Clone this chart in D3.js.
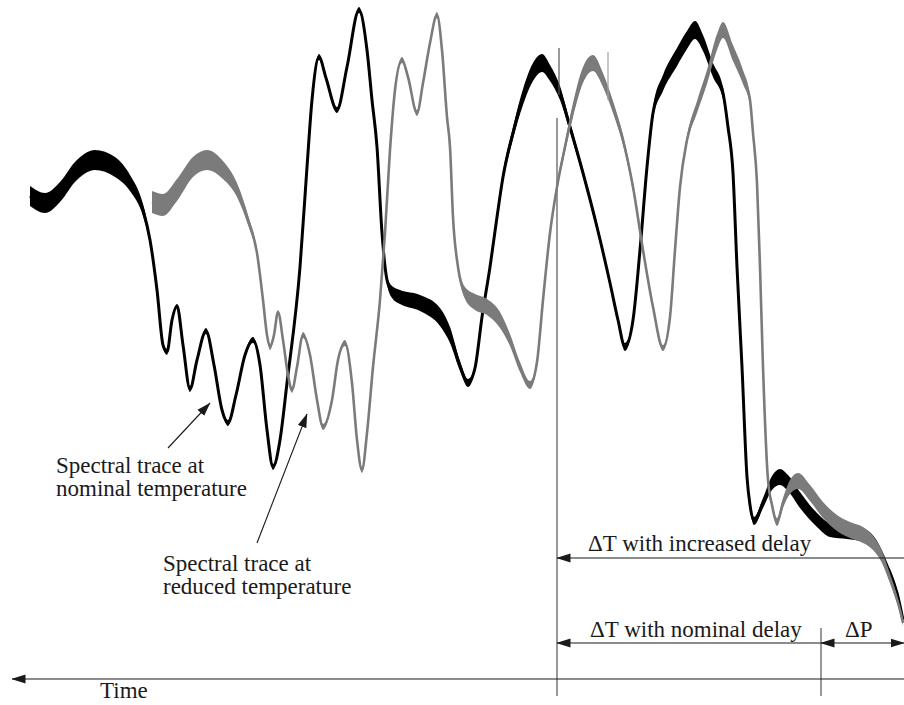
<!DOCTYPE html>
<html>
<head>
<meta charset="utf-8">
<script src="https://cdn.jsdelivr.net/npm/d3@7"></script>
<style>
  html, body { margin: 0; padding: 0; background: #fff; }
  svg { display: block; }
  text { font-family: "Liberation Serif", "Times New Roman", serif; font-size: 23px; fill: #1a1a1a; }
</style>
</head>
<body>
<div id="chart"></div>
<script>
// Trace samples: [time, level, spread] in arbitrary units (spread = half width of the noise band)
const nominalTrace = [
  [0, 202, 5], [7.5, 198.5, 5], [15, 204, 5], [22.5, 214, 5], [32.5, 220, 5], [42.5, 216.5, 5],
  [50, 208.5, 4], [56.5, 195, 3], [60, 180, 2], [63.5, 155, 1.5], [66.5, 127.5, 1.5], [68.5, 124, 1.5],
  [71, 140, 1], [73.5, 147, 1], [76.5, 127.5, 1], [80, 105.5, 1.5], [83.5, 120, 1], [88, 134.5, 1.5],
  [92, 117.5, 1], [96, 95, 1], [99, 88.5, 1.5], [103, 102.5, 1], [107.5, 122.5, 1], [111.5, 130, 1.5],
  [115, 117.5, 1], [118.5, 85, 1], [121.5, 66.5, 1.5], [125, 80, 1], [128.5, 108.5, 1], [135, 166.5, 1],
  [138.5, 216.5, 1], [141, 250, 1], [144.5, 271.5, 1.5], [148, 261, 1.5], [153.5, 245, 1.5], [158.5, 266.5, 1.5],
  [164.5, 295, 1.5], [168.5, 275, 1], [171, 250, 1], [173.5, 226.5, 1], [176, 183.5, 1], [178.5, 160, 2],
  [181, 154, 3], [185, 151.5, 3.5], [195, 148.5, 4], [205, 141.5, 4.5], [210, 132.5, 4], [215, 117, 2.5],
  [219, 108.5, 2], [222.5, 116, 1.5], [226, 141.5, 1.5], [230, 166.5, 1.5], [233.5, 191.5, 2], [236.5, 211.5, 2.5],
  [241.5, 233.5, 3], [246.5, 251.5, 4], [251.5, 264, 4.5], [256, 268.5, 4.5], [260, 263.5, 4], [265, 253.5, 3.5],
  [270, 236.5, 2.5], [276.5, 213.5, 2], [283.5, 186.5, 2], [290, 158.5, 1.5], [294, 140, 1.5], [297.5, 126.5, 2],
  [301.5, 140, 1.5], [305, 175, 1.5], [308.5, 216.5, 2], [311.5, 243.5, 3], [316.5, 258.5, 4], [323.5, 271.5, 4.5],
  [328.5, 280, 4.5], [332.5, 285, 4.5], [336.5, 278.5, 4], [341.5, 265, 3.5], [346.5, 253.5, 3], [349, 236.5, 2],
  [351.5, 213.5, 1.5], [353.5, 166.5, 1], [356, 116.5, 1], [358.5, 61.5, 1], [360, 47.5, 1.5], [362, 39.5, 2],
  [366.5, 48.5, 2.5], [371, 58.5, 3.5], [375, 61.5, 4], [379, 58.5, 4], [385, 50, 4], [393.5, 40, 3.5],
  [400, 35, 3.5], [408.5, 34, 3.5], [416.5, 32.5, 3.5], [423.5, 26.5, 3], [428.5, 16.5, 2.5], [433.5, 3.5, 2],
  [436.5, -10, 1.5]
];

const reducedTrace = [
  [61, 199, 5.5], [66.5, 197.5, 5.5], [73.5, 205, 5.5], [81.5, 216.5, 5], [88.5, 220, 5], [96.5, 215, 4.5],
  [103.5, 205, 3.5], [109, 190, 2.5], [113.5, 173.5, 1.5], [116.5, 150, 1], [118.5, 132.5, 1], [120, 126.5, 1.5],
  [122, 132.5, 1], [124, 144, 1], [126.5, 130, 1], [129, 112.5, 1], [131, 105, 1.5], [133.5, 116.5, 1],
  [136.5, 132.5, 1.5], [140, 122.5, 1], [143.5, 100, 1], [146.5, 86.5, 1.5], [151, 100, 1], [154, 120, 1],
  [157.5, 128.5, 1.5], [161, 108.5, 1], [163.5, 80, 1], [166, 65, 1.5], [168.5, 83.5, 1], [171.5, 116.5, 1],
  [175, 150, 1], [177.5, 183.5, 1], [180, 225, 1], [182.5, 255, 1], [186, 270, 1.5], [189, 261.5, 1.5],
  [193.5, 243.5, 1.5], [196.5, 258.5, 1], [200, 278.5, 1], [203.5, 292.5, 1.5], [206, 275, 1], [208.5, 241.5, 1],
  [210, 226.5, 1], [211.5, 191.5, 1], [214, 166.5, 1.5], [217.5, 153.5, 3], [222.5, 149, 4], [228.5, 146.5, 4],
  [235, 140, 4], [240, 130, 3], [245, 116.5, 2.5], [250, 107.5, 2], [253.5, 119, 1.5], [256.5, 150, 1.5],
  [260, 183.5, 1.5], [263.5, 206.5, 2], [267.5, 226.5, 2.5], [271.5, 245, 3.5], [276.5, 262.5, 4], [281.5, 268.5, 4],
  [286.5, 260, 3.5], [291.5, 246.5, 3], [296.5, 230, 2.5], [301.5, 206.5, 2], [306.5, 175, 1.5], [311.5, 146.5, 1.5],
  [316.5, 126, 1.5], [320, 141.5, 1], [322.5, 175, 1], [325, 206.5, 1.5], [328.5, 230, 2], [333.5, 246.5, 3],
  [338.5, 261.5, 3.5], [343.5, 279, 4], [346.5, 285, 4], [351.5, 273.5, 4], [356.5, 261.5, 3.5], [360, 250, 2.5],
  [361.5, 233.5, 1.5], [363.5, 208.5, 1], [365, 166.5, 1], [366.5, 116.5, 1], [369, 60, 1], [371, 47.5, 1.5],
  [373.5, 39, 2], [376.5, 48.5, 2.5], [380, 56.5, 3.5], [384, 59.5, 4], [390, 53.5, 4], [396.5, 45, 4],
  [403.5, 38.5, 4], [410, 35, 4], [416.5, 32.5, 4], [421.5, 28.5, 3.5], [426, 21.5, 3], [429, 13.5, 2.5],
  [432.5, 3.5, 2], [435, -5, 1.5], [436.5, -11.5, 1.5]
];

// Peak markers left on the scope capture: [time, top level, bottom level]
const peakMarkers = [[264.5, 276, 252.5], [289, 274, 250]];

// Delay measurement points (time units)
const delayStart = 263.5;
const nominalEnd = 395.5;
const increasedEnd = 437;
const increasedLevel = 21;
const nominalLevel = -21.5;
const timeAxisLevel = -39.5;
const guideTop = 241;
const guideBottom = -48;

// Annotation arrows: tail [t, v] -> tip [t, v]
const pointerArrows = [
  [[69, 76], [90, 98.5]],
  [[113.5, 28.5], [138.5, 93]]
];

const labels = [
  { lines: ['Spectral trace at', 'nominal temperature'], t: 13, v: 63.5 },
  { lines: ['Spectral trace at', 'reduced temperature'], t: 66.5, v: 14.5 }
];

const width = 904, height = 705;

const x = d3.scaleLinear().domain([0, 437]).range([30, 904]);
const y = d3.scaleLinear().domain([-50, 300]).range([700, 0]);

const svg = d3.select('#chart').append('svg')
  .attr('width', width)
  .attr('height', height)
  .attr('viewBox', `0 0 ${width} ${height}`);

svg.append('rect').attr('width', width).attr('height', height).attr('fill', '#fff');

// solid triangular arrow head
const defs = svg.append('defs');
defs.append('marker')
  .attr('id', 'head')
  .attr('viewBox', '0 0 14 10')
  .attr('refX', 13.5).attr('refY', 5)
  .attr('markerWidth', 14).attr('markerHeight', 10)
  .attr('markerUnits', 'userSpaceOnUse')
  .attr('orient', 'auto-start-reverse')
  .append('path')
  .attr('d', 'M0,0.5 L14,5 L0,9.5 Z')
  .attr('fill', '#1a1a1a');

// guide lines
const guides = svg.append('g').attr('stroke', '#444').attr('stroke-width', 1.1);
guides.append('line')
  .attr('x1', x(delayStart)).attr('x2', x(delayStart))
  .attr('y1', y(guideTop)).attr('y2', y(guideBottom));
guides.append('line')
  .attr('x1', x(nominalEnd)).attr('x2', x(nominalEnd))
  .attr('y1', y(nominalLevel + 7.5)).attr('y2', y(guideBottom));

// traces: noise band plus centre line
const band = d3.area()
  .x(d => x(d[0]))
  .y0(d => y(d[1] - d[2]))
  .y1(d => y(d[1] + d[2]))
  .curve(d3.curveMonotoneX);

const line = d3.line()
  .x(d => x(d[0]))
  .y(d => y(d[1]))
  .curve(d3.curveMonotoneX);

function drawTrace(data, color, w) {
  const g = svg.append('g');
  g.append('path').attr('d', band(data)).attr('fill', color);
  g.append('path').attr('d', line(data))
    .attr('fill', 'none')
    .attr('stroke', color)
    .attr('stroke-width', w)
    .attr('stroke-linejoin', 'round');
}

drawTrace(nominalTrace, '#000', 3);
drawTrace(reducedTrace, '#7b7b7b', 2.6);

svg.append('g').selectAll('line')
  .data(peakMarkers)
  .enter().append('line')
  .attr('x1', d => x(d[0])).attr('x2', d => x(d[0]))
  .attr('y1', d => y(d[1])).attr('y2', d => y(d[2]))
  .attr('stroke', (d, i) => i === 0 ? '#555' : '#a0a0a0')
  .attr('stroke-width', 1.2);

// pointer arrows
svg.append('g').selectAll('line')
  .data(pointerArrows)
  .enter().append('line')
  .attr('x1', d => x(d[0][0])).attr('y1', d => y(d[0][1]))
  .attr('x2', d => x(d[1][0])).attr('y2', d => y(d[1][1]))
  .attr('stroke', '#1a1a1a')
  .attr('stroke-width', 1.1)
  .attr('marker-end', 'url(#head)');

// delay arrows
const arrows = svg.append('g').attr('stroke', '#1a1a1a').attr('stroke-width', 1.1);
arrows.append('line')
  .attr('x1', x(delayStart)).attr('x2', x(increasedEnd) + 2)
  .attr('y1', y(increasedLevel)).attr('y2', y(increasedLevel))
  .attr('marker-start', 'url(#head)');
arrows.append('line')
  .attr('x1', x(delayStart)).attr('x2', x(nominalEnd))
  .attr('y1', y(nominalLevel)).attr('y2', y(nominalLevel))
  .attr('marker-start', 'url(#head)');
arrows.append('line')
  .attr('x1', x(nominalEnd)).attr('x2', x(increasedEnd))
  .attr('y1', y(nominalLevel)).attr('y2', y(nominalLevel))
  .attr('marker-start', 'url(#head)')
  .attr('marker-end', 'url(#head)');

// time axis
svg.append('line')
  .attr('x1', 12).attr('x2', x(increasedEnd) + 2)
  .attr('y1', y(timeAxisLevel)).attr('y2', y(timeAxisLevel))
  .attr('stroke', '#1a1a1a').attr('stroke-width', 1.2)
  .attr('marker-start', 'url(#head)');

// text
labels.forEach(l => {
  const t = svg.append('text').attr('x', x(l.t)).attr('y', y(l.v));
  l.lines.forEach((s, i) => {
    t.append('tspan').attr('x', x(l.t)).attr('dy', i === 0 ? 0 : 23).text(s);
  });
});

svg.append('text').attr('x', 588).attr('y', 551).text('\u0394T with increased delay');
svg.append('text').attr('x', 590).attr('y', 637).text('\u0394T with nominal delay');
svg.append('text').attr('x', 845).attr('y', 637).text('\u0394P');
svg.append('text').attr('x', 100).attr('y', 698).text('Time');
</script>
</body>
</html>
